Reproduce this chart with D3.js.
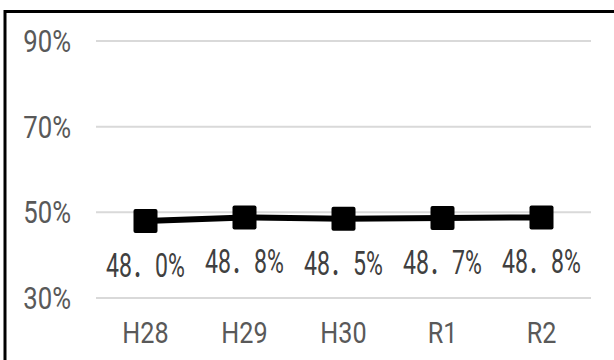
<!DOCTYPE html>
<html>
<head>
<meta charset="utf-8">
<script src="https://cdn.jsdelivr.net/npm/d3@7/dist/d3.min.js"></script>
<style>
  html, body { margin: 0; padding: 0; background: #fff; }
  svg { display: block; }
  text { font-family: Roboto, "Noto Sans CJK JP", sans-serif; }
</style>
</head>
<body>
<svg id="chart" width="614" height="360"></svg>
<script>
// Fiscal years and yearly rate (%)
const years = ["H28", "H29", "H30", "R1", "R2"];
const rates = [48.0, 48.8, 48.5, 48.7, 48.8];
const yTicks = [30, 50, 70, 90];

const W = 614, H = 360;
const svg = d3.select("#chart");

// chart frame
svg.append("rect")
  .attr("x", 5).attr("y", 11.5)
  .attr("width", W + 10).attr("height", H + 10)
  .attr("fill", "#fff").attr("stroke", "#000").attr("stroke-width", 3);

const x = d3.scaleBand().domain(years).range([96, 591]);
const y = d3.scaleLinear().domain([30, 90]).range([298, 41]);

// horizontal gridlines
svg.append("g").selectAll("line").data(yTicks).join("line")
  .attr("x1", 96).attr("x2", 591)
  .attr("y1", d => y(d)).attr("y2", d => y(d))
  .attr("stroke", "#d9d9d9").attr("stroke-width", 2);

// y-axis labels
svg.append("g").selectAll("text").data(yTicks).join("text")
  .attr("transform", d => `translate(71,${y(d) + 11}) scale(0.83,1)`)
  .attr("text-anchor", "end")
  .attr("font-size", 31).attr("fill", "#595959")
  .text(d => d + "%");

// category labels
svg.append("g").selectAll("text").data(years).join("text")
  .attr("transform", d => `translate(${x(d) + x.bandwidth() / 2},343) scale(0.84,1)`)
  .attr("text-anchor", "middle")
  .attr("font-size", 30).attr("fill", "#595959")
  .text(d => d);

const pts = years.map((k, i) => ({ k, v: rates[i] }));
const cx = d => x(d.k) + x.bandwidth() / 2;

// series line
svg.append("path")
  .datum(pts)
  .attr("fill", "none").attr("stroke", "#000").attr("stroke-width", 6)
  .attr("d", d3.line().x(cx).y(d => y(d.v)));

// square markers
const ms = 24;
svg.append("g").selectAll("rect").data(pts).join("rect")
  .attr("x", d => cx(d) - ms / 2).attr("y", d => y(d.v) - ms / 2)
  .attr("width", ms).attr("height", ms).attr("rx", 2)
  .attr("fill", "#000");

// value labels
svg.append("g").selectAll("text").data(pts).join("text")
  .attr("transform", d => `translate(${cx(d)},${y(d.v) + 56}) scale(0.7,1)`)
  .attr("text-anchor", "middle")
  .attr("font-size", 33).attr("fill", "#404040")
  .text(d => d.v.toFixed(1).replace(".", "．") + "%");
</script>
</body>
</html>
